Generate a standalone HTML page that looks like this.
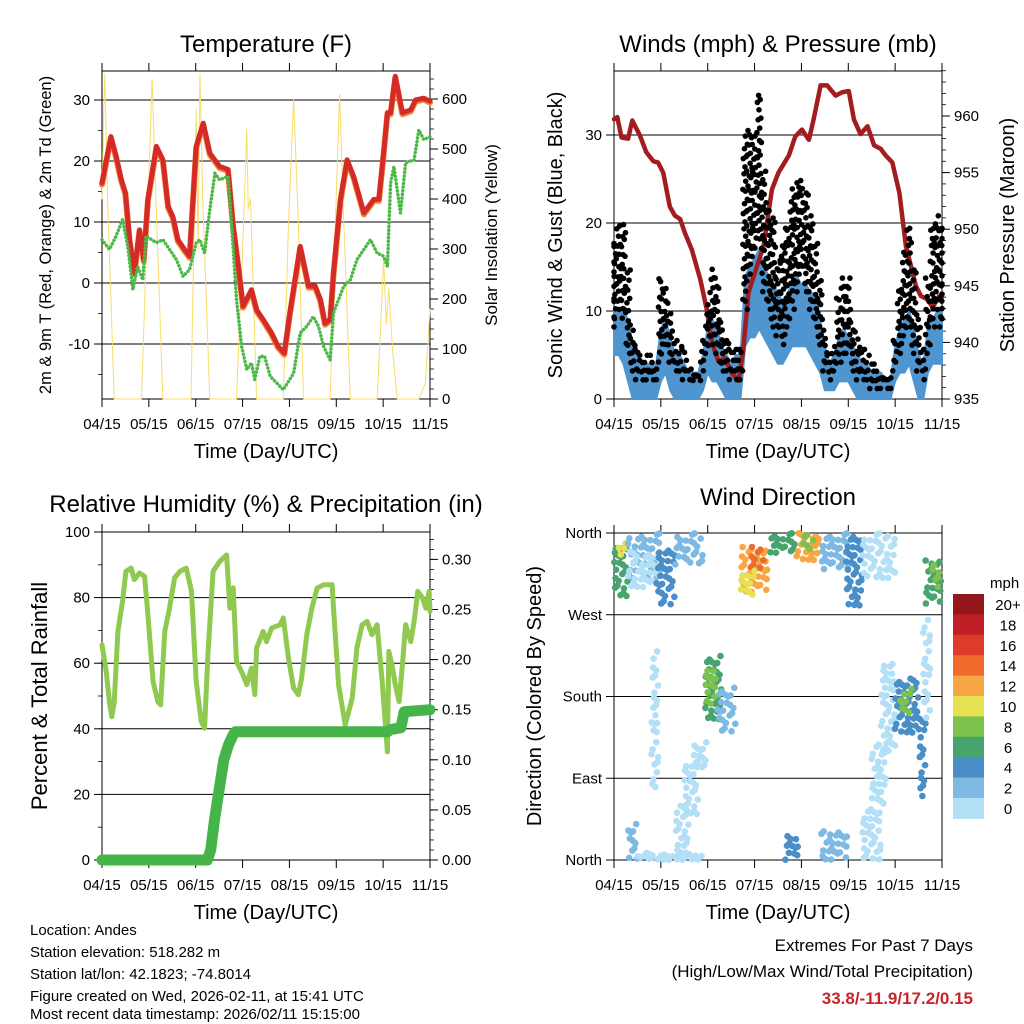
<!DOCTYPE html>
<html><head><meta charset="utf-8"><style>
html,body{margin:0;padding:0;background:#fff;}
svg{display:block;font-family:"Liberation Sans",Arial,sans-serif;}
</style></head><body>
<svg id="s" width="1024" height="1024" viewBox="0 0 1024 1024" xmlns="http://www.w3.org/2000/svg">
<rect width="1024" height="1024" fill="#fff"/>
<text x="266" y="52" font-size="24" text-anchor="middle">Temperature (F)</text>
<text x="778" y="52" font-size="24" text-anchor="middle">Winds (mph) &amp; Pressure (mb)</text>
<text x="266" y="512" font-size="24" text-anchor="middle">Relative Humidity (%) &amp; Precipitation (in)</text>
<text x="778" y="505" font-size="24" text-anchor="middle">Wind Direction</text>
<text transform="translate(51,235) rotate(-90)" font-size="16.5" text-anchor="middle">2m &amp; 9m T (Red, Orange) &amp; 2m Td (Green)</text>
<text transform="translate(497,235) rotate(-90)" font-size="17" text-anchor="middle">Solar Insolation (Yellow)</text>
<text transform="translate(562,235) rotate(-90)" font-size="20" text-anchor="middle">Sonic Wind &amp; Gust (Blue, Black)</text>
<text transform="translate(1014,235) rotate(-90)" font-size="20" text-anchor="middle">Station Pressure (Maroon)</text>
<text transform="translate(47,696) rotate(-90)" font-size="22" text-anchor="middle">Percent &amp; Total Rainfall</text>
<text transform="translate(541,696) rotate(-90)" font-size="20" text-anchor="middle">Direction (Colored By Speed)</text>
<text x="266" y="458" font-size="20" text-anchor="middle">Time (Day/UTC)</text>
<text x="778" y="458" font-size="20" text-anchor="middle">Time (Day/UTC)</text>
<text x="266" y="919" font-size="20" text-anchor="middle">Time (Day/UTC)</text>
<text x="778" y="919" font-size="20" text-anchor="middle">Time (Day/UTC)</text>
<g font-size="15">
<text x="30" y="935">Location: Andes</text>
<text x="30" y="957">Station elevation: 518.282 m</text>
<text x="30" y="979">Station lat/lon: 42.1823; -74.8014</text>
<text x="30" y="1001">Figure created on Wed, 2026-02-11, at 15:41 UTC</text>
<text x="30" y="1019">Most recent data timestamp: 2026/02/11 15:15:00</text>
</g>
<text x="973" y="951" font-size="17" text-anchor="end">Extremes For Past 7 Days</text>
<text x="973" y="977" font-size="17" text-anchor="end">(High/Low/Max Wind/Total Precipitation)</text>
<text x="973" y="1004" font-size="17" font-weight="bold" fill="#c8242b" text-anchor="end">33.8/-11.9/17.2/0.15</text>
<text x="990" y="588" font-size="15">mph</text>
</svg>
<script>
const tempM=[0,0.19,0.3,0.41,0.5,0.59,0.69,0.8,0.89,0.98,1.16,1.3,1.41,1.51,1.62,1.76,1.87,2.01,2.16,2.3,2.51,2.69,2.8,2.91,3.01,3.19,3.3,3.44,3.62,3.76,3.89,4.01,4.23,4.41,4.55,4.66,4.76,4.87,4.94,5.09,5.23,5.37,5.59,5.8,5.91,6.01,6.09,6.16,6.26,6.41,6.59,6.69,6.87,7];
const tempV=[16.4,24,20.8,17,14.8,7.1,1.6,8.7,3.8,13.7,22.4,20.2,12.6,10.9,7.1,5.5,4.4,22.4,26.2,21.3,19.1,18.6,9.3,2.7,-3.8,-1.1,-4.4,-6,-8.2,-10.4,-11.5,-4.9,6,-0.5,-0.5,-2.7,-6.6,-6,1.6,13.7,20.2,17.5,11.5,13.7,13.7,21.3,27.9,27.9,33.9,27.9,28.4,30,30.3,29.8];
const dewM=[0,0.16,0.3,0.44,0.55,0.66,0.76,0.87,0.94,1.16,1.3,1.44,1.59,1.73,1.87,2.01,2.09,2.19,2.3,2.41,2.51,2.69,2.76,2.87,2.98,3.09,3.19,3.26,3.37,3.47,3.59,3.87,4.09,4.23,4.37,4.51,4.62,4.73,4.87,4.94,5.16,5.3,5.44,5.73,5.87,6.01,6.09,6.16,6.23,6.37,6.48,6.66,6.76,6.87,7];
const dewV=[7.1,5.5,7.7,10.4,6,-1.1,2.7,0.5,7.7,6.6,7.1,5.5,3.8,1.1,2.2,6.6,7.1,4.9,12,18,16.9,17.5,10.4,-2.7,-10.4,-14.2,-13.1,-15.8,-12,-12,-15.3,-17.5,-14.8,-8.2,-7.1,-5.5,-7.1,-10.4,-12.6,-4.9,-0.5,0.5,3.8,7.1,4.9,4.4,2.7,16.4,19.1,11.5,19.7,20.2,25.1,23.5,24];
const solarM=[0,0.03,0.06,0.12,0.26,0.84,0.95,1.07,1.15,1.3,1.9,2.01,2.05,2.09,2.15,2.3,2.87,3.0,3.09,3.12,3.17,3.3,3.87,3.98,4.09,4.18,4.3,4.87,4.98,5.07,5.15,5.3,5.87,5.95,6.01,6.07,6.12,6.2,6.3,6.76,6.9,7];
const solarV=[400,550,650,400,0,0,300,640,400,0,0,580,300,650,400,0,0,300,540,380,400,0,0,350,600,380,0,0,350,610,380,0,0,150,280,150,220,100,0,0,30,180];
const presM=[0,0.07,0.16,0.3,0.39,0.55,0.69,0.84,0.94,1.05,1.19,1.3,1.41,1.51,1.66,1.84,1.98,2.09,2.23,2.37,2.51,2.66,2.76,2.87,3.05,3.19,3.37,3.51,3.73,3.87,4.01,4.16,4.26,4.41,4.55,4.73,4.87,5.01,5.12,5.26,5.41,5.55,5.69,5.8,5.94,6.09,6.23,6.34,6.44,6.55,6.69,6.8,6.94,7];
const presV=[959.7,959.9,958.1,958,959.6,958.3,956.8,956,955.9,955,952,951.2,950.9,949.7,948.2,945.6,942.9,940,938.3,938.6,937.3,936.6,939.4,944.4,946.7,948.5,953.5,955,956.5,958.2,958.8,957.9,959.7,962.7,962.7,961.8,962.1,962.2,959.7,958.4,959.1,957.4,957.1,956.5,955.9,953.2,948.5,946.7,945,944.1,943.8,943.1,944.1,944];
const windLo=[5,5,4,2,0,0,0,0,0,0,2,3,1,0,0,0,0,0,0,1,3,2,2,1,0,0,0,0,6,7,7,8,7,6,5,4,4,5,6,6,6,6,5,4,3,1,1,1,2,2,2,1,0,0,0,0,0,0,0,0,2,3,3,4,2,0,0,3,4,4,4];
const windHi=[10,10,10,9,6,5,4,4,4,4,8,9,7,5,5,4,3,3,3,5,8,9,8,6,5,4,5,5,14,15,16,17,15,14,13,12,11,12,13,14,13,13,12,12,9,6,4,5,7,8,7,6,5,4,4,3,3,3,2,2,6,8,9,10,8,5,4,8,9,10,10];
const gustLo=[8,10,9,5,3,2,2,2,2,2,4,6,4,3,3,2,2,2,2,3,5,6,5,3,3,2,2,2,10,14,16,18,12,10,8,7,6,8,10,12,14,12,10,8,6,3,2,3,4,5,5,3,2,2,2,1,1,1,1,1,3,5,7,8,5,3,2,5,8,10,8];
const gustHi=[18,20,20,15,8,6,5,5,5,4,14,13,10,7,6,6,4,3,3,7,11,15,14,9,7,6,6,6,30,31,30,35,26,22,21,16,18,20,24,25,25,24,21,18,14,8,5,6,12,14,14,9,7,6,5,4,4,3,3,3,7,13,17,20,15,10,6,14,20,21,20];
const rhM=[0,0.09,0.16,0.21,0.26,0.34,0.44,0.51,0.62,0.69,0.8,0.91,0.98,1.09,1.19,1.25,1.34,1.44,1.55,1.66,1.8,1.91,2.01,2.12,2.19,2.26,2.37,2.51,2.66,2.73,2.8,2.87,3.01,3.09,3.19,3.26,3.3,3.44,3.51,3.62,3.8,3.87,3.98,4.09,4.19,4.26,4.37,4.48,4.59,4.73,4.91,4.94,5.05,5.19,5.34,5.44,5.55,5.66,5.76,5.87,5.98,6.09,6.12,6.19,6.26,6.34,6.41,6.48,6.59,6.66,6.74,6.84,6.91,6.98,7];
const rhV=[65.6,57.5,48,43.7,48,69.7,79,88,89,85.5,87.5,86.5,74.8,54.4,48.3,47.3,69.7,76.8,86,88,89,81.9,54.4,42.2,40.2,62.6,88,91,93,76.8,83,60.5,56.5,53.4,58.5,50.4,64.6,69.7,66.6,70.7,71.7,73.8,61.5,52.4,50.4,55.4,68.7,76.8,82.9,83.9,83.9,76.8,53.4,41.2,49.3,64.6,71.7,72.7,68.7,71.7,54.4,33,63.6,59.5,53.4,48.3,59.5,71.7,66.6,72.7,81.9,79.9,76.8,81.9,75.8];
const rainM=[0,2.25,2.32,2.4,2.5,2.6,2.7,2.8,2.85,6.1,6.15,6.38,6.45,7];
const rainV=[0,0,0.01,0.04,0.07,0.1,0.115,0.125,0.128,0.128,0.13,0.132,0.148,0.15];
const dirX0=[0,0.1,0.3,0.3,0.9,1.3,2.7,2.9,2.7,3.3,3.9,4.0,4.4,4.95,5.3,6.65,6.8,0.3,0.5,1.3,1.5,1.7,0.8,1.95,2.2,3.65,4.4,5.3,5.5,5.7,6.0,6.1,6.5,6.6,1.95];
const dirX1=[0.3,0.25,1.0,1.0,1.3,1.9,3.3,3.2,3.0,3.9,4.4,4.3,5.0,5.3,6.0,7.0,6.95,0.5,1.9,1.6,1.8,2.0,0.95,2.3,2.6,3.95,5.0,5.7,5.8,6.0,6.5,6.35,6.65,6.75,2.2];
const dirD0=[290,330,310,300,280,325,295,320,290,338,330,340,320,280,310,282,300,0,0,0,50,100,80,155,140,0,0,0,60,120,140,160,70,155,170];
const dirD1=[350,350,360,340,345,360,345,345,320,360,360,358,360,360,360,333,330,40,8,60,110,130,230,225,190,30,35,60,130,220,200,190,160,270,215];
const dirSpd=[7,10,3,1,5,3,12,15,10,6,12,9,3,5,1,7,8,2,1,0,0,1,0,6,3,4,2,1,1,1,4,8,4,1,8];
const months=["04/15","05/15","06/15","07/15","08/15","09/15","10/15","11/15"];
const tempTicks=[-10,0,10,20,30];
const solarTicks=[0,100,200,300,400,500,600];
const windTicks=[0,10,20,30];
const presTicks=[935,940,945,950,955,960];
const rhTicks=[0,20,40,60,80,100];
const rainTicks=[0,0.05,0.10,0.15,0.20,0.25,0.30];
const dirTicks=[0,90,180,270,360];
const dirLabels=["North","East","South","West","North"];
const cbLabels=["20+","18","16","14","12","10","8","6","4","2","0"];
const cbColors=["#93171b","#c01f26","#de3b2b","#ef6a2c","#f6a744","#e6e054","#7cc24b","#48a46f","#4a8ec8","#7db9e3","#b3e0f7"];

const NS="http://www.w3.org/2000/svg";
const svg=document.getElementById('s');
function mk(tag,attrs,parent){const e=document.createElementNS(NS,tag);for(const k in attrs)e.setAttribute(k,attrs[k]);(parent||svg).appendChild(e);return e;}
function grp(name){const g=mk('g',{});return g;}
function line(g,x1,y1,x2,y2,name,w,c){const e=mk('line',{x1,y1,x2,y2,stroke:c||'#000','stroke-width':w||1},g);return e;}
function txt(g,x,y,s,anchor,size,name){const e=mk('text',{x,y,'font-size':size||14,'text-anchor':anchor||'middle'},g);e.textContent=s;return e;}
function poly(g,pts,name,c,w,extra){const e=mk('polyline',Object.assign({points:pts.map(p=>p[0].toFixed(1)+','+p[1].toFixed(1)).join(' '),fill:'none',stroke:c,'stroke-width':w,'stroke-linejoin':'round','stroke-linecap':'round'},extra||{}),g);return e;}

const PW=328/7;
const JX=[0,0.6,0.25,0.85,0.45,0.1,0.7,0.35,0.95,0.55];
const JY=[0.3,0.8,0.1,0.6,0.95,0.45,0.2,0.7,0.05,0.5];
function frame(px,top,bot,name,rightAxis){
  const g=grp(name+'-frame');
  line(g,px,top,px+328,top,name+'-top-border');
  line(g,px,bot,px+328,bot,name+'-bottom-border');
  line(g,px,top,px,bot,name+'-left-border');
  if(rightAxis)line(g,px+328,top,px+328,bot,name+'-right-border');
  for(let i=0;i<8;i++){const x=px+i*PW;
    line(g,x,top,x,top-8,name+'-top-tick');
    line(g,x,bot,x,bot+8,name+'-x-tick');
    txt(g,x,bot+30,months[i],'middle',15,name+'-x-tick-label');}
  return g;
}
function yAxis(g,px,ticks,fy,labels,side,name,minorStep,minorFrom,minorTo,grid){
  ticks.forEach((v,i)=>{const y=fy(v);
    if(side==='left'){line(g,px-8,y,px,y,name+'-tick');txt(g,px-12,y+5,labels?labels[i]:String(v),'end',15,name+'-tick-label');if(grid)line(g,px,y,px+328,y,name+'-gridline');}
    else{line(g,px,y,px+8,y,name+'-tick');txt(g,px+12,y+5,labels?labels[i]:String(v),'start',15,name+'-tick-label');}
  });
  if(minorStep){for(let v=minorFrom;v<=minorTo+1e-9;v+=minorStep){const y=fy(v);
    if(side==='left')line(g,px-4,y,px,y,name+'-minor-tick',0.8);else line(g,px,y,px+4,y,name+'-minor-tick',0.8);}}
}

// ---------- Panel 1: Temperature ----------
const x1=m=>102+m*PW, tY=v=>283-v*6.1, sY=v=>399-v*0.5;
{
  const g=frame(102,71,399,'temp',true);
  yAxis(g,102,tempTicks,tY,null,'left','temp-y-axis',5,-15,33,true);
  yAxis(g,430,solarTicks,sY,null,'right','solar-y-axis',20,0,640,false);
  const s=grp('temp-series');
  poly(s,solarM.map((m,i)=>[x1(m),Math.max(71,sY(solarV[i]))]),'solar-insolation-line','#f9dd6a',1);
  poly(s,tempM.map((m,i)=>[x1(m),tY(tempV[i])+1.5]),'temp-9m-line','#f08a3a',6);
  poly(s,tempM.map((m,i)=>[x1(m),tY(tempV[i])]),'temp-2m-line','#d42a28',5);
  poly(s,dewM.map((m,i)=>[x1(m),tY(dewV[i])]),'dewpoint-line','#4cb847',3.5,{'stroke-dasharray':'0.1 3.6'});
}
// ---------- Panel 2: Winds ----------
const x2=m=>614+m*PW, wY=v=>399-v*8.8, pY=p=>399-(p-935)*11.32;
{
  const g=frame(614,71,399,'wind',true);
  yAxis(g,614,windTicks,wY,null,'left','wind-y-axis',null,0,0,true);
  yAxis(g,942,presTicks,pY,null,'right','pressure-y-axis',1,935,964,false);
  const s=grp('wind-series');
  const gd=grp('gust-dots');
  gustHi.forEach((hi,i)=>{const lo=gustLo[i];
    const span=hi-lo;
    const n=Math.max(3,Math.round(span*1.6));
    for(let j=0;j<n;j++){
      const v=lo+span*((j+JY[j%10])/n);
      const off=(JX[(j+i)%10]-0.5)*0.1;
      const c=mk('circle',{cx:x2(Math.min(7,Math.max(0,i*0.1+off))).toFixed(1),cy:wY(v).toFixed(1),r:2.8,fill:'#000'},gd);
      
      }
  });
  const band=[];windHi.forEach((v,i)=>band.push([x2(i*0.1),wY(v)]));
  for(let i=windLo.length-1;i>=0;i--)band.push([x2(i*0.1),wY(windLo[i])]);
  const b=mk('polygon',{points:band.map(p=>p[0].toFixed(1)+','+p[1].toFixed(1)).join(' '),fill:'#4f95d0',stroke:'#4f95d0','stroke-width':2,'stroke-linejoin':'round'},s);
  
  
  poly(s,presM.map((m,i)=>[x2(m),pY(presV[i])]),'pressure-line','#a31c1f',4.5);
}
// ---------- Panel 3: RH ----------
const rY=v=>860-v*3.28, raY=v=>860-v*1002;
{
  const g=frame(102,532,860,'rh',true);
  yAxis(g,102,rhTicks,rY,null,'left','rh-y-axis',10,0,100,true);
  yAxis(g,430,rainTicks,raY,rainTicks.map(v=>v.toFixed(2)),'right','rain-y-axis',0.01,0,0.32,false);
  const s=grp('rh-series');
  poly(s,rhM.map((m,i)=>[x1(m),rY(rhV[i])]),'relative-humidity-line','#8fc94f',5);
  poly(s,rainM.map((m,i)=>[x1(m),raY(rainV[i])]),'rainfall-line','#45b449',11);
}
// ---------- Panel 4: Wind direction ----------
const dY=d=>860-d*(327/360);
{
  const g=frame(614,533,860,'direction',true);
  yAxis(g,614,dirTicks,dY,dirLabels,'left','direction-y-axis',null,0,0,true);
  const s=grp('direction-points');
  dirX0.forEach((a,i)=>{const b=dirX1[i],d0=dirD0[i],d1=dirD1[i];
    const ci=10-Math.min(10,Math.floor(dirSpd[i]/2));
    const cols=Math.max(2,Math.round((b-a)/0.075));
    const rows=Math.max(2,Math.round((d1-d0)/8));
    for(let r=0;r<rows;r++){for(let c2=0;c2<cols;c2++){
      const k=r*7+c2*3+i;
      if((k%4)===0)continue;
      const m=a+(b-a)*((c2+JX[k%10])/cols);
      const d=d0+(d1-d0)*((r+JY[(k+3)%10])/rows);
      const c=mk('circle',{cx:x2(m).toFixed(1),cy:dY(d).toFixed(1),r:3.3,fill:cbColors[ci]},s);
      
      }}
  });
  const cb=grp('speed-colorbar');
  cbColors.forEach((c,i)=>{const y=594+i*20.4;
    const r=mk('rect',{x:953,y:y.toFixed(1),width:31,height:20.9,fill:c},cb);
    
    
    txt(cb,1008,y+16,cbLabels[i],'middle',15,'colorbar-label');});
}
</script>
</body></html>
